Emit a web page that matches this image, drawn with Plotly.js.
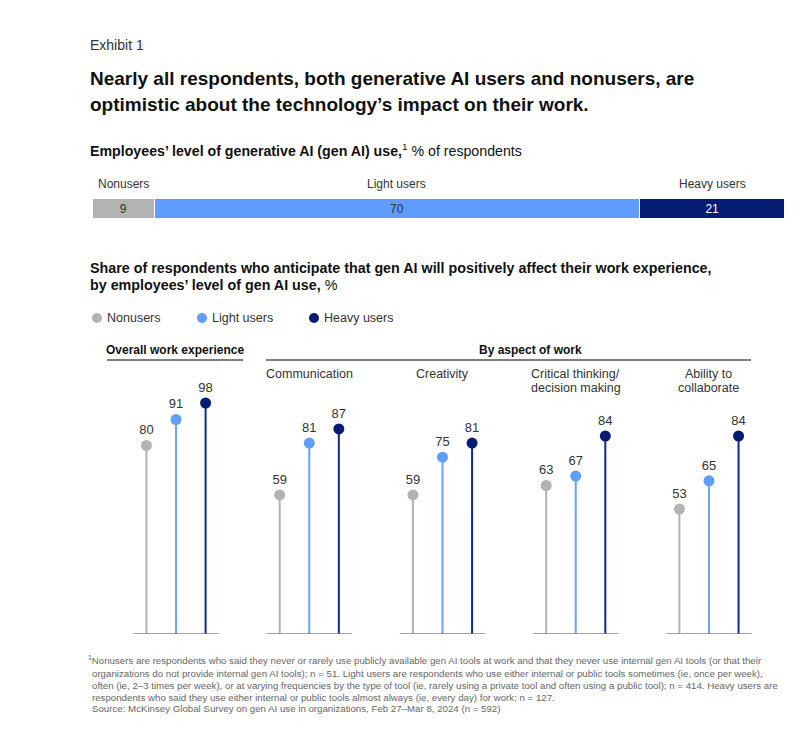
<!DOCTYPE html>
<html>
<head>
<meta charset="utf-8">
<script src="https://cdn.plot.ly/plotly-3.0.1.min.js"></script>
<style>
  body { margin: 0; background: #fff; }
  #chart { width: 799px; height: 739px; }
</style>
</head>
<body>
<div id="chart"></div>
<script>
// share of respondents by level of use
var shareLabels = ['Nonusers', 'Light users', 'Heavy users'];
var shareValues = [9, 70, 21];

// positive impact by aspect of work
var groups = ['Overall work experience', 'Communication', 'Creativity', 'Critical thinking/<br>decision making', 'Ability to<br>collaborate'];
var seriesNames = ['Nonusers', 'Light users', 'Heavy users'];
var nonusers = [80, 59, 59, 63, 53];
var lightUsers = [91, 81, 75, 67, 65];
var heavyUsers = [98, 87, 81, 84, 84];

var W = 799, H = 739;
var FONT = 'Liberation Sans, Arial, sans-serif';
function px(x) { return x / W; }
function py(y) { return 1 - y / H; }

var barColors = ['#b3b3b3', '#5e9dfe', '#051c72'];
var stemColors = ['#b3b3b3', '#69a4ff', '#10288a'];
var dotColors = ['#b3b3b3', '#5f9dff', '#051c72'];
var barTextColors = ['#333333', '#333333', '#ffffff'];

var traces = [];

// stacked bar
shareLabels.forEach(function (lab, i) {
    traces.push({
        type: 'bar',
        orientation: 'h',
        x: [shareValues[i]],
        y: ['share'],
        xaxis: 'x2',
        yaxis: 'y2',
        name: lab,
        text: [String(shareValues[i])],
        textposition: 'inside',
        insidetextanchor: 'middle',
        textfont: {family: FONT, size: 12, color: barTextColors[i]},
        marker: {color: barColors[i], line: {color: '#ffffff', width: 1.5}},
        showlegend: false,
        hoverinfo: 'skip'
    });
});

// lollipops
var allSeries = [nonusers, lightUsers, heavyUsers];
allSeries.forEach(function (vals, s) {
    var xs = [], sx = [], sy = [];
    vals.forEach(function (v, g) {
        var xx = g + (s - 1) * 0.222;
        xs.push(xx);
        sx.push(xx, xx, null);
        sy.push(0, v, null);
    });
    traces.push({
        type: 'scatter', mode: 'lines',
        x: sx, y: sy,
        line: {color: stemColors[s], width: 2},
        showlegend: false, hoverinfo: 'skip'
    });
    traces.push({
        type: 'scatter', mode: 'markers+text',
        x: xs, y: vals,
        name: seriesNames[s],
        text: vals.map(String),
        textposition: 'top center',
        textfont: {family: FONT, size: 13, color: '#333333'},
        marker: {color: dotColors[s], size: 11},
        cliponaxis: false,
        showlegend: false
    });
});

var annotations = [];
var shapes = [];

function note(x, y, text, size, opts) {
    opts = opts || {};
    annotations.push({
        xref: 'paper', yref: 'paper',
        x: px(x), y: py(y),
        xanchor: opts.anchor || 'left', yanchor: 'middle',
        text: text, showarrow: false, align: opts.anchor === 'center' ? 'center' : 'left',
        font: {family: FONT, size: size, color: opts.color || '#333333'}
    });
}

note(88, 45, 'Exhibit 1', 14, {color: '#333333'});
note(88, 79, '<b>Nearly all respondents, both generative AI users and nonusers, are</b>', 19, {color: '#111111'});
note(88, 104, '<b>optimistic about the technology’s impact on their work.</b>', 19, {color: '#111111'});
note(88, 150, '<b>Employees’ level of generative AI (gen AI) use,</b><sup>1</sup> % of respondents', 14.2, {color: '#111111'});

// bar segment labels
var cum = 0;
shareValues.forEach(function (v, i) {
    annotations.push({
        xref: 'x2', yref: 'paper', x: cum + v / 2, y: py(184),
        xanchor: 'center', yanchor: 'middle', showarrow: false,
        text: shareLabels[i], font: {family: FONT, size: 12, color: '#333333'}
    });
    cum += v;
});

note(88, 268, '<b>Share of respondents who anticipate that gen AI will positively affect their work experience,</b>', 14.3, {color: '#111111'});
note(88, 285, '<b>by employees’ level of gen AI use,</b> %', 14.3, {color: '#111111'});

// legend
var legX = [97, 202, 314];
seriesNames.forEach(function (n, i) {
    shapes.push({
        type: 'circle', xref: 'paper', yref: 'paper',
        x0: px(legX[i] - 5), x1: px(legX[i] + 5), y0: py(323), y1: py(313),
        fillcolor: dotColors[i], line: {width: 0}
    });
    note(legX[i] + 8, 318, n, 12.5);
});

// section headers
note(175, 350, '<b>' + groups[0] + '</b>', 12, {anchor: 'center', color: '#111111'});
note(530, 350, '<b>By aspect of work</b>', 12, {anchor: 'center', color: '#111111'});
shapes.push({type: 'line', xref: 'paper', yref: 'paper', x0: px(107), x1: px(243), y0: py(360), y1: py(360), line: {color: '#555555', width: 1.5}});
shapes.push({type: 'line', xref: 'paper', yref: 'paper', x0: px(266), x1: px(751), y0: py(360), y1: py(360), line: {color: '#555555', width: 1.5}});

// aspect labels and baselines
groups.forEach(function (g, i) {
    shapes.push({
        type: 'line', xref: 'x', yref: 'y', x0: i - 0.32, x1: i + 0.32, y0: 0, y1: 0,
        line: {color: '#808080', width: 1.5}
    });
    if (i === 0) return;
    g.split('<br>').forEach(function (line, k) {
        annotations.push({
            xref: 'x', yref: 'paper', x: i, y: py(374 + k * 14),
            xanchor: 'center', yanchor: 'middle', showarrow: false,
            text: line, font: {family: FONT, size: 12.5, color: '#333333'}
        });
    });
});

// footnotes
var foot = [
    '<sup>1</sup>Nonusers are respondents who said they never or rarely use publicly available gen AI tools at work and that they never use internal gen AI tools (or that their',
    'organizations do not provide internal gen AI tools); n = 51. Light users are respondents who use either internal or public tools sometimes (ie, once per week),',
    'often (ie, 2–3 times per week), or at varying frequencies by the type of tool (ie, rarely using a private tool and often using a public tool); n = 414. Heavy users are',
    'respondents who said they use either internal or public tools almost always (ie, every day) for work; n = 127.',
    'Source: McKinsey Global Survey on gen AI use in organizations, Feb 27–Mar 8, 2024 (n = 592)'
];
var footY = [660, 673, 685, 697, 708];
foot.forEach(function (t, i) {
    note(i === 0 ? 86 : 90, footY[i], t, 9.7, {color: '#666666'});
});

var layout = {
    width: W, height: H,
    margin: {l: 0, r: 0, t: 0, b: 0},
    paper_bgcolor: '#ffffff', plot_bgcolor: '#ffffff',
    showlegend: false,
    barmode: 'stack',
    bargap: 0,
    xaxis: {domain: [px(109.4), px(775.6)], range: [-0.5, 4.5], visible: false, fixedrange: true},
    yaxis: {domain: [py(634), py(634 - 110 * 2.357)], range: [0, 110], visible: false, fixedrange: true},
    xaxis2: {domain: [px(92), px(785)], range: [0, 100], visible: false, anchor: 'y2', fixedrange: true},
    yaxis2: {domain: [py(219), py(198)], visible: false, anchor: 'x2', fixedrange: true},
    annotations: annotations,
    shapes: shapes
};

Plotly.newPlot('chart', traces, layout, {displayModeBar: false, staticPlot: true});
</script>
</body>
</html>
